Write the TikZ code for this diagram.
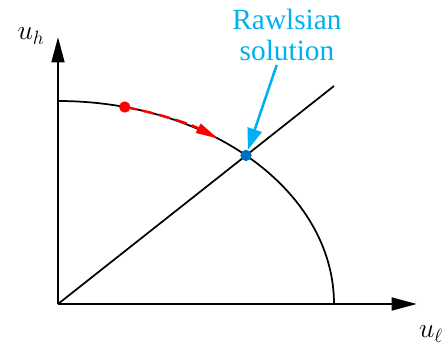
\documentclass[tikz,border=0pt]{standalone}
\usepackage{fontspec}
\setmainfont{Liberation Serif}
\usetikzlibrary{arrows.meta}
\definecolor{rawlsblue}{RGB}{0,112,192}
\definecolor{labelcyan}{RGB}{0,176,240}

\begin{document}
\begin{tikzpicture}[x=0.75pt,y=0.75pt,
    axis/.style={line width=2pt,-{Triangle[length=19pt,width=9.5pt]}},
    curve/.style={line width=1.3pt},
    dot/.style={circle,fill,inner sep=0pt,minimum size=8.5pt},
    axlabel/.style={font=\fontsize{22}{26}\selectfont},
    callout/.style={align=center,text=labelcyan,font=\fontsize{22}{23}\selectfont}
]
\useasboundingbox (-58,-43) rectangle (388,304);

\coordinate (O)    at (0,0);
\coordinate (xend) at (359,0);
\coordinate (yend) at (0,267);
\coordinate (ray)  at (276,218);

\draw[axis] (O) -- (xend);
\draw[axis] (O) -- (yend);
\node[axlabel] (uh) at (-27,268) {$u_h$};
\node[axlabel] (ul) at (373,-30) {$u_\ell$};

% frontier and equality line
\draw[curve] (0,203) arc[start angle=90,end angle=0,x radius=276,y radius=203];
\draw[curve] (O) -- (ray);

% move along the frontier
\draw[red,line width=1.8pt,dash pattern=on 9pt off 4pt,-{Triangle[length=17pt,width=7.5pt]}]
    (76:276 and 203) arc[start angle=76,end angle=54.5,x radius=276,y radius=203];
\node[dot,red]       (start) at (76:276 and 203) {};
\node[dot,rawlsblue] (rawls) at (188,148.6) {};

\node[callout,anchor=south] (rl) at (229,239) {Rawlsian\\solution};
\draw[labelcyan,line width=1.9pt,-{Triangle[length=16pt,width=11pt]}] (rl) -- (rawls);
\end{tikzpicture}
\end{document}
